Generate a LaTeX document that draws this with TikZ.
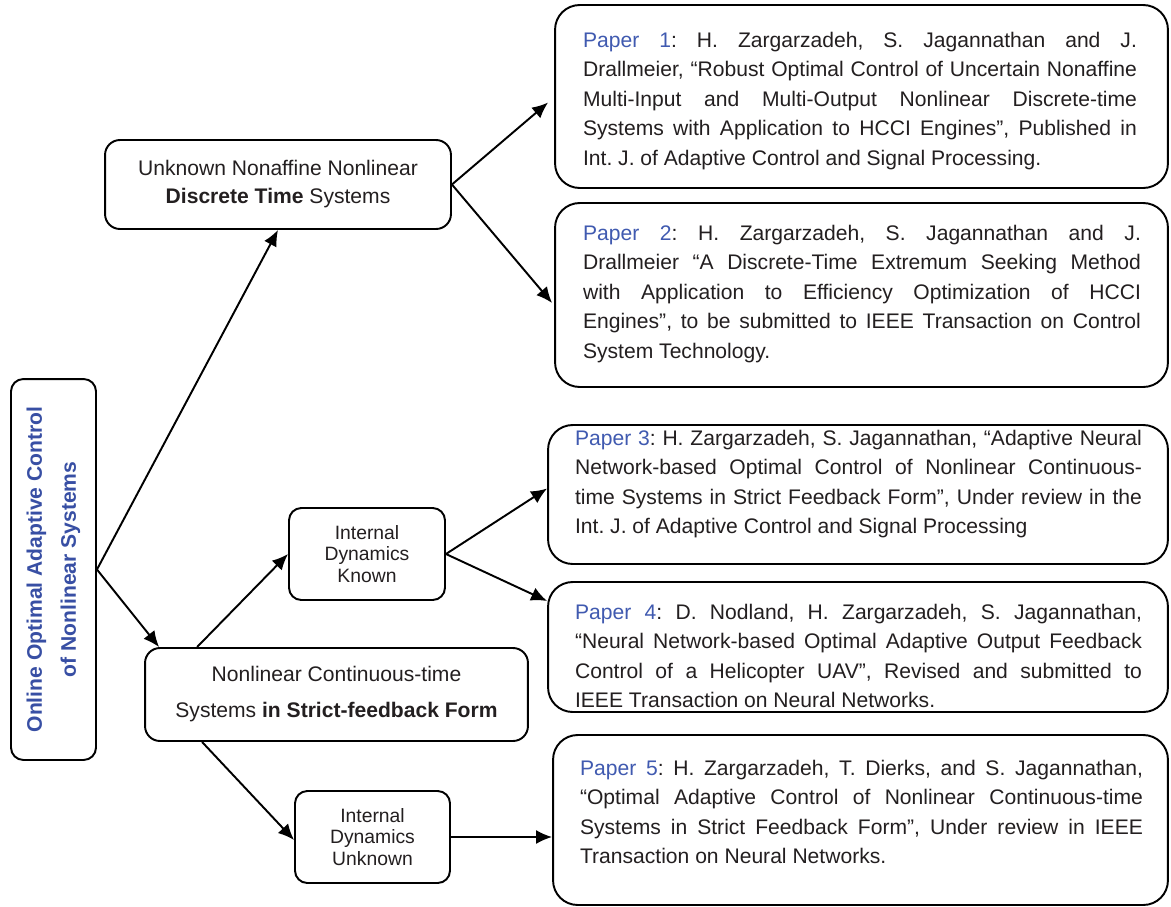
\documentclass[tikz,border=0pt]{standalone}
\usepackage{fontspec}
\setmainfont{Liberation Sans}
\usetikzlibrary{arrows.meta,calc}
\definecolor{Ink}{RGB}{35,31,32}
\definecolor{PaperBlue}{RGB}{64,90,176}
\definecolor{TitleBlue}{RGB}{56,79,164}
\newcommand{\fullline}[1]{#1\linebreak}
\newcommand{\paperno}[1]{\textcolor{PaperBlue}{Paper #1}}
\newcommand{\loosewords}{\frenchspacing\tolerance=10000 \spaceskip=.278em plus 2em minus .05em\relax}
\tikzset{
  >=Latex,
  box/.style={draw=black,line width=1.1pt,rounded corners=7pt,fill=white,align=center,text=Ink,inner sep=0pt},
  rootbox/.style={box,text=TitleBlue,font=\bfseries\fontsize{12}{19.3}\selectfont},
  topic/.style={box,rounded corners=8.5pt,font=\fontsize{12}{15.9}\selectfont},
  sub/.style={box,font=\fontsize{11}{12.2}\selectfont},
  paper/.style={box,rounded corners=14pt},
  ptext/.style={text=Ink,inner sep=0pt,align=justify,text width=#1,
    font=\fontsize{12}{16.8}\selectfont,execute at begin node=\loosewords},
  link/.style={-{Latex[length=0.32cm,width=0.28cm]},line width=1.1pt,draw=black}
}
\begin{document}
\begin{tikzpicture}[x=0.02cm,y=-0.02cm]
  \useasboundingbox (0,0) rectangle (1171,907);
  % root box is turned, so its south anchor faces right
  \node[rootbox,rotate=90,minimum width=7.62cm,minimum height=1.7cm] (root) at (53.5,569.5) {Online Optimal Adaptive Control\\of Nonlinear Systems};
  \node[topic,minimum width=6.92cm,minimum height=1.78cm] (disc) at (278,184.5) {Unknown Nonaffine Nonlinear\\\textbf{Discrete Time} Systems};
  \node[topic,font=\fontsize{12}{20.5}\selectfont,minimum width=7.66cm,minimum height=1.86cm] (cont) at (336.5,694.5) {Nonlinear Continuous-time\\Systems \textbf{in Strict-feedback Form}};
  \node[sub,minimum width=3.12cm,minimum height=1.84cm] (known) at (367,554) {Internal\\Dynamics\\Known};
  \node[sub,minimum width=3.1cm,minimum height=1.84cm] (unknown) at (372.5,837) {Internal\\Dynamics\\Unknown};
  % paper boxes, text set on top
  \node[paper,minimum width=12.26cm,minimum height=3.66cm] (p1) at (861.5,96.5) {};
  \node[paper,minimum width=12.26cm,minimum height=3.68cm] (p2) at (861.5,295) {};
  \node[paper,minimum width=12.4cm,minimum height=2.78cm] (p3) at (858,494.5) {};
  \node[paper,minimum width=12.4cm,minimum height=2.6cm] (p4) at (858,647) {};
  \node[paper,minimum width=12.3cm,minimum height=3.4cm] (p5) at (860.5,820) {};
  \node[ptext=11.08cm] (p1text) at (860,101) {\fullline{\paperno{1}: H. Zargarzadeh, S. Jagannathan and J.}\fullline{Drallmeier, “Robust Optimal Control of Uncertain Nonaffine}\fullline{Multi-Input and Multi-Output Nonlinear Discrete-time}\fullline{Systems with Application to HCCI Engines”, Published in}Int. J. of Adaptive Control and Signal Processing.};
  \node[ptext=11.16cm] (p2text) at (862,294) {\fullline{\paperno{2}: H. Zargarzadeh, S. Jagannathan and J.}\fullline{Drallmeier “A Discrete-Time Extremum Seeking Method}\fullline{with Application to Efficiency Optimization of HCCI}\fullline{Engines”, to be submitted to IEEE Transaction on Control}System Technology.};
  \node[ptext=11.34cm] (p3text) at (858.5,484) {\fullline{\paperno{3}: H. Zargarzadeh, S. Jagannathan, “Adaptive Neural}\fullline{Network-based Optimal Control of Nonlinear Continuous-}\fullline{time Systems in Strict Feedback Form”, Under review in the}Int. J. of Adaptive Control and Signal Processing};
  \node[ptext=11.34cm] (p4text) at (858.5,656) {\fullline{\paperno{4}: D. Nodland, H. Zargarzadeh, S. Jagannathan,}\fullline{“Neural Network-based Optimal Adaptive Output Feedback}\fullline{Control of a Helicopter UAV”, Revised and submitted to}IEEE Transaction on Neural Networks.};
  \node[ptext=11.26cm] (p5text) at (861.5,812) {\fullline{\paperno{5}: H. Zargarzadeh, T. Dierks, and S. Jagannathan,}\fullline{“Optimal Adaptive Control of Nonlinear Continuous-time}\fullline{Systems in Strict Feedback Form”, Under review in IEEE}Transaction on Neural Networks.};
  % connectors
  \draw[link] (root.south) -- (disc.south);
  \draw[link] (root.south) -- ($(cont.north west)+(15,0)$);
  \draw[link] (disc.east) -- ($(p1.west)+(-6,6)$);
  \draw[link] (disc.east) -- ($(p2.west)+(-2,8)$);
  \draw[link] ($(cont.north west)+(53,0)$) -- (known.west);
  \draw[link] ($(cont.south west)+(58,0)$) -- ($(unknown.west)+(0,3)$);
  \draw[link] (known.east) -- ($(p3.west)+(0,-6)$);
  \draw[link] (known.east) -- ($(p4.west)+(0,-46)$);
  \draw[link] (unknown.east) -- (unknown.east -| p5.west);
\end{tikzpicture}
\end{document}
